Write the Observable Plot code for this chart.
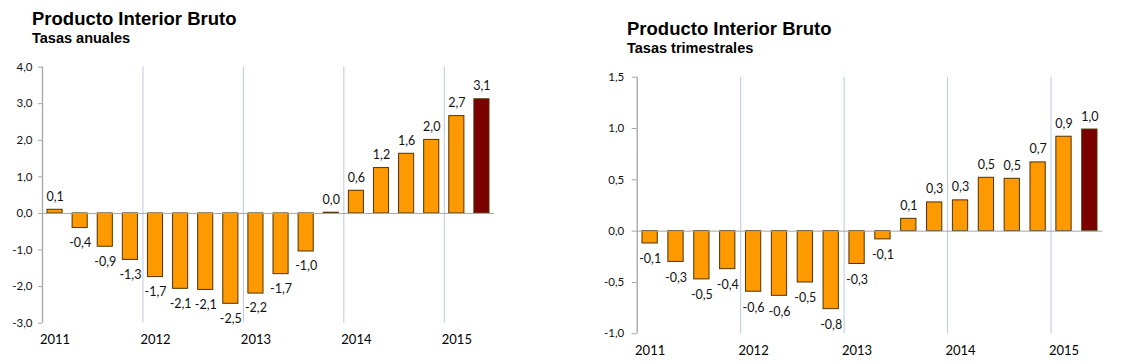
<!DOCTYPE html>
<html>
<head>
<meta charset="utf-8">
<script src="https://cdn.jsdelivr.net/npm/d3@7"></script>
<script src="https://cdn.jsdelivr.net/npm/@observablehq/plot@0.6"></script>
<style>
  html, body { margin: 0; padding: 0; background: #fff; }
  #wrap { position: relative; width: 1128px; height: 364px; overflow: hidden; font-family: "Liberation Sans", Arial, sans-serif; }
  .title { position: absolute; font-weight: bold; font-size: 18.5px; line-height: 1; color: #000; white-space: nowrap; }
  .sub { position: absolute; font-weight: bold; font-size: 14.5px; line-height: 1; color: #000; white-space: nowrap; }
  .panel { position: absolute; top: 0; }
  .panel svg { display: block; }
</style>
</head>
<body>
<div id="wrap">
  <div class="title" style="left:32px;top:10px">Producto Interior Bruto</div>
  <div class="sub" style="left:32px;top:31px">Tasas anuales</div>
  <div class="title" style="left:627px;top:20px">Producto Interior Bruto</div>
  <div class="sub" style="left:627px;top:41px">Tasas trimestrales</div>
  <div class="panel" id="left" style="left:0px"></div>
  <div class="panel" id="right" style="left:564px"></div>
</div>
<script>
// ---- Data ----
const years = ["2011", "2012", "2013", "2014", "2015"];
const quarters = [
  "2011 T1", "2011 T2", "2011 T3", "2011 T4",
  "2012 T1", "2012 T2", "2012 T3", "2012 T4",
  "2013 T1", "2013 T2", "2013 T3", "2013 T4",
  "2014 T1", "2014 T2", "2014 T3", "2014 T4",
  "2015 T1", "2015 T2"
];
// Tasas anuales (variación interanual, %)
const annualRates = [0.10, -0.40, -0.91, -1.27, -1.74, -2.06, -2.09, -2.47, -2.19, -1.66, -1.04, 0.02, 0.62, 1.24, 1.63, 2.01, 2.66, 3.12];
// Tasas trimestrales (variación intertrimestral, %)
const quarterlyRates = [-0.12, -0.30, -0.47, -0.37, -0.59, -0.63, -0.50, -0.76, -0.32, -0.08, 0.12, 0.28, 0.30, 0.52, 0.51, 0.67, 0.92, 0.99];
const annualTicks = [-3, -2, -1, 0, 1, 2, 3, 4];
const quarterlyTicks = [-1, -0.5, 0, 0.5, 1, 1.5];

// ---- Helpers ----
const fmt = v => v.toFixed(1).replace(".", ",");
const qPerYear = 4;
const yearStartIdx = years.map((y, i) => i * qPerYear);            // index of Q1 of each year
const yearBoundaries = yearStartIdx.filter(i => i > 0);              // separators between years
const ORANGE = "#ff9900", DARKRED = "#7b0000", BARSTROKE = "#4f3300";
const AXIS = "#a6a6a6", GRID = "#b9c9de", TEXT = "#111";

function panel(values, cfg) {
  const data = quarters.map((q, i) => ({q, i, v: values[i], last: i === quarters.length - 1}));
  return Plot.plot({
    width: cfg.width,
    height: 364,
    marginLeft: cfg.marginLeft,
    marginRight: cfg.marginRight,
    marginTop: cfg.marginTop,
    marginBottom: cfg.marginBottom,
    style: {fontFamily: "Lato, 'Open Sans', sans-serif", fontSize: "11.5px", color: TEXT, background: "transparent", overflow: "visible"},
    x: {type: "linear", domain: [0, quarters.length]},
    y: {domain: cfg.yDomain},
    marks: [
      Plot.ruleX(yearBoundaries, {x: d => d, stroke: GRID, strokeWidth: 1}),
      Plot.rectY(data, {
        x1: "i", x2: d => d.i + 1, y1: 0, y2: "v",
        fill: d => d.last ? DARKRED : ORANGE,
        stroke: BARSTROKE, strokeWidth: 1,
        insetLeft: cfg.inset, insetRight: cfg.inset
      }),
      Plot.ruleY([0], {stroke: AXIS, strokeWidth: 1}),
      Plot.ruleX([0], {stroke: AXIS, strokeWidth: 1.3}),
      Plot.text(data.filter(d => d.v >= 0), {
        x: d => d.i + 0.5, y: "v", text: d => fmt(d.v),
        lineAnchor: "bottom", dy: -9, fill: TEXT, fontSize: 12.5
      }),
      Plot.text(data.filter(d => d.v < 0), {
        x: d => d.i + 0.5, y: "v", text: d => fmt(d.v),
        lineAnchor: "top", dy: cfg.negDy, fill: TEXT, fontSize: 12.5
      }),
      Plot.axisY({
        ticks: cfg.yTicks, tickFormat: fmt, tickSize: cfg.tickSize, tickPadding: cfg.tickPadding,
        stroke: AXIS, fill: TEXT, label: null, fontSize: 11.5
      }),
      Plot.axisX({
        ticks: yearStartIdx.map(i => i + 0.5),
        tickFormat: d => years[Math.round((d - 0.5) / qPerYear)],
        tickSize: 0, tickPadding: cfg.yearPad, fill: "#000", label: null, fontSize: 13
      })
    ]
  });
}

document.getElementById("left").appendChild(panel(annualRates, {
  width: 564, marginLeft: 42, marginRight: 70, marginTop: 66.6, marginBottom: 41.3,
  yDomain: [-3, 4], yTicks: annualTicks, inset: 5, negDy: 10,
  tickSize: 4, tickPadding: 6, yearPad: 12
}));
document.getElementById("right").appendChild(panel(quarterlyRates, {
  width: 564, marginLeft: 72.7, marginRight: 25.7, marginTop: 76.7, marginBottom: 30.7,
  yDomain: [-1, 1.5], yTicks: quarterlyTicks, inset: 5.3, negDy: 11,
  tickSize: 5, tickPadding: 8, yearPad: 12
}));
</script>
</body>
</html>
